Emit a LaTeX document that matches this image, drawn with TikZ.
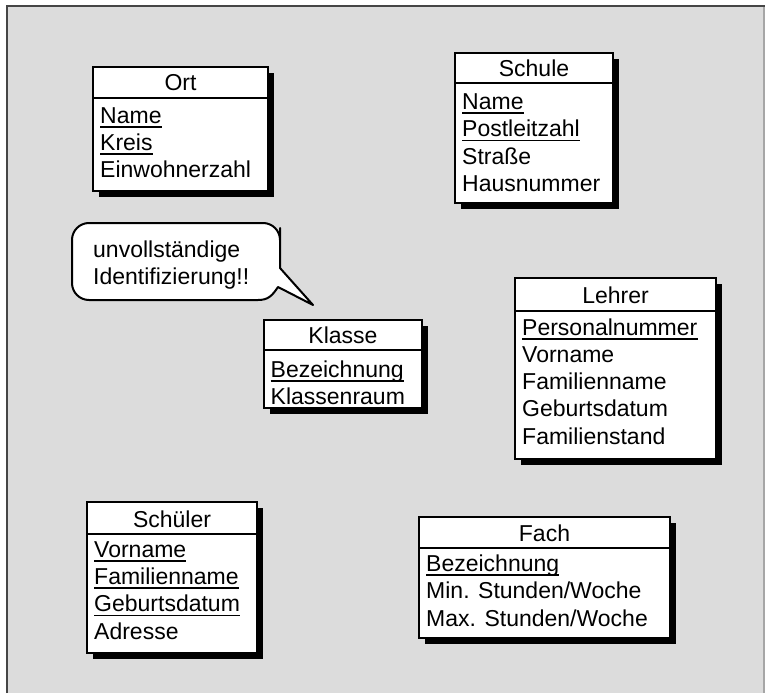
\documentclass[tikz,border=0pt]{standalone}
\usepackage{fontspec}
\setmainfont{Liberation Sans}
\definecolor{panel}{gray}{0.863}
\definecolor{paneldark}{gray}{0.27}
\definecolor{panellight}{gray}{0.65}
\newcommand\erfont{\fontsize{23}{27}\selectfont}
\tikzset{
  shadowfill/.style={fill=black},
  entbox/.style={draw=black, fill=white, line width=2pt},
  sepline/.style={draw=black, line width=2pt},
  etitle/.style={anchor=base, inner sep=0pt, font=\erfont},
  eattr/.style={anchor=base west, inner sep=0pt, font=\erfont},
  keyline/.style={draw=black, line width=1.4pt},
  bubble/.style={draw=black, fill=white, line width=2pt, line join=round},
}
% entity frame: left, top, right, bottom, y of the header rule
\newcommand\entframe[5]{%
  \fill[shadowfill] (#1+6,#2+6) rectangle (#3+6,#4+6);
  \draw[entbox] (#1,#2) rectangle (#3,#4);
  \draw[sepline] (#1,#5) -- (#3,#5);
}
% key attribute: node name, position, text (underlined)
\newcommand\keyattr[3]{%
  \node[eattr] (#1) at (#2) {#3};
  \draw[keyline] ([yshift=-4pt]#1.base west) -- ([yshift=-4pt]#1.base east);
}
\begin{document}
\begin{tikzpicture}[x=1pt, y=-1pt]
  \useasboundingbox (0,0) rectangle (765,693);
  % panel
  \fill[white] (0,0) rectangle (765,693);
  \fill[panel] (7,7) rectangle (765,693);
  \draw[paneldark, line width=2pt] (6.5,693) -- (6.5,6.5) -- (765,6.5);
  \draw[panellight, line width=1.5pt] (764,7.5) -- (764,693);

  % Ort
  \entframe{93}{67}{268}{191}{98}
  \node[etitle] (ortT) at (180.5,90) {Ort};
  \keyattr{ortA}{100,123}{Name}
  \keyattr{ortB}{100,150}{Kreis}
  \node[eattr] (ortC) at (100,177) {Einwohnerzahl};

  % Schule
  \entframe{455}{53}{613}{203}{83}
  \node[etitle] (schT) at (534,76) {Schule};
  \keyattr{schA}{462,109}{Name}
  \keyattr{schB}{462,136.5}{Postleitzahl}
  \node[eattr] (schC) at (462,164) {Straße};
  \node[eattr] (schD) at (462,191) {Hausnummer};

  % speech bubble
  \draw[bubble] (72,262) [rounded corners=17] -- (72,223) -- (280,223) -- (280,245)
    [sharp corners] -- (280,268) -- (313,305) -- (278,287)
    .. controls (272,296) and (268,300) .. (258,300)
    [rounded corners=17] -- (72,300) -- cycle;
  \node[eattr] (noteA) at (93,257) {unvollständige};
  \node[eattr] (noteB) at (93,284) {Identifizierung!!};

  % Klasse
  \entframe{264}{320}{422}{408}{350}
  \node[etitle] (klaT) at (343,343) {Klasse};
  \keyattr{klaA}{270.5,377}{Bezeichnung}
  \node[eattr] (klaB) at (270.5,404) {Klassenraum};

  % Lehrer
  \entframe{515}{278}{716}{459}{311}
  \node[etitle] (lehT) at (615.5,303) {Lehrer};
  \keyattr{lehA}{522,335}{Personalnummer}
  \node[eattr] (lehB) at (522,362) {Vorname};
  \node[eattr] (lehC) at (522,389) {Familienname};
  \node[eattr] (lehD) at (522,416.5) {Geburtsdatum};
  \node[eattr] (lehE) at (522,444) {Familienstand};

  % Schüler
  \entframe{87}{502}{257}{653}{534}
  \node[etitle] (sluT) at (172,527) {Schüler};
  \keyattr{sluA}{94,557}{Vorname}
  \keyattr{sluB}{94,584}{Familienname}
  \keyattr{sluC}{94,611.5}{Geburtsdatum}
  \node[eattr] (sluD) at (94,639) {Adresse};

  % Fach
  \entframe{419}{517}{670}{638}{548}
  \node[etitle] (facT) at (544.5,541) {Fach};
  \keyattr{facA}{426,571}{Bezeichnung}
  \node[eattr] (facB) at (426,598.5) {Min. Stunden/Woche};
  \node[eattr] (facC) at (426,626) {Max. Stunden/Woche};
\end{tikzpicture}
\end{document}
